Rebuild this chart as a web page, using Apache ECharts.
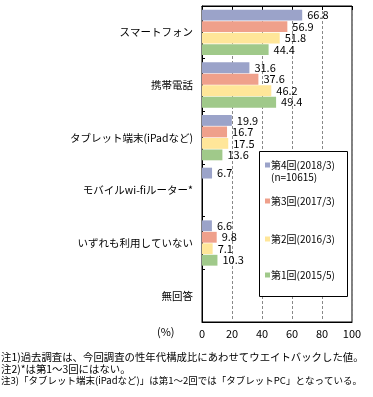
<!DOCTYPE html>
<html><head><meta charset="utf-8">
<script src="https://cdn.jsdelivr.net/npm/echarts@6/dist/echarts.min.js"></script>
<style>html,body{margin:0;padding:0;background:#fff}#c{width:373px;height:397px}</style>
</head><body><div id="c"></div>
<script>
const categories = ['スマートフォン','携帯電話','タブレット端末(iPadなど)','モバイルwi-fiルーター*','いずれも利用していない','無回答'];
const seriesNames = ['第4回(2018/3)','第3回(2017/3)','第2回(2016/3)','第1回(2015/5)'];
const round4 = [66.8, 31.6, 19.9, 6.7, 6.6, null];
const round3 = [56.9, 37.6, 16.7, null, 9.8, null];
const round2 = [51.8, 46.2, 17.5, null, 7.1, null];
const round1 = [44.4, 49.4, 13.6, null, 10.3, null];
const xTicks = [0, 20, 40, 60, 80, 100];
const sampleNote = '(n=10615)';
const notes = [
  '注1)過去調査は、今回調査の性年代構成比にあわせてウエイトバックした値。',
  '注2)*は第1～3回にはない。',
  '注3)「タブレット端末(iPadなど)」は第1～2回では「タブレットPC」となっている。'
];
const colors = ['#9BA3C9','#EFA08B','#FFE699','#A0C98A'];
const FONT = '"Noto Sans CJK JP", sans-serif';
const values = [round4, round3, round2, round1];
const noteSizes = [10.4, 10.4, 9.5];

const chart = echarts.init(document.getElementById('c'), null, {renderer:'canvas'});
const legendTops = [160, 196, 234, 270];
chart.setOption({
  animation:false,
  textStyle:{fontFamily:FONT, color:'#000'},
  grid:{left:202, top:6, width:150, height:316, show:true, borderColor:'#000', borderWidth:1, backgroundColor:'transparent'},
  xAxis:[{
    type:'value', min:xTicks[0], max:xTicks[xTicks.length-1], interval:20, position:'bottom',
    axisLine:{show:true, lineStyle:{color:'#000'}},
    axisTick:{show:false},
    axisLabel:{color:'#000', fontSize:11, fontFamily:FONT, margin:6},
    splitLine:{show:true, lineStyle:{color:'#888', type:[3,2], width:1}}
  },{
    type:'value', min:0, max:100, interval:20, position:'top',
    axisLine:{show:true, lineStyle:{color:'#000'}},
    axisTick:{show:true, inside:true, length:4, lineStyle:{color:'#000'}},
    axisLabel:{show:false}, splitLine:{show:false}
  }],
  yAxis:{
    type:'category', data:categories, inverse:true,
    axisLine:{show:true, lineStyle:{color:'#000'}},
    axisTick:{show:true, inside:true, length:3, lineStyle:{color:'#000'}},
    axisLabel:{color:'#000', fontSize:10.5, fontFamily:FONT, margin:9}
  },
  legend: seriesNames.map((n,i)=>({
    data:[n], orient:'vertical', left:265, top:legendTops[i], padding:0, z:10,
    icon:'rect', itemWidth:5, itemHeight:5, itemGap:4,
    textStyle:{fontSize:10, fontFamily:FONT, color:'#000', padding:[0,0,0,-4]},
    selectedMode:false
  })),
  graphic:[
    {type:'rect', left:259, top:151, z:3, shape:{width:88, height:145}, style:{fill:'#fff', stroke:'#000', lineWidth:1}},
    {type:'text', left:271, top:172, z:110, style:{text:sampleNote, fontSize:10, fontFamily:FONT, fill:'#000'}},
    {type:'text', left:157, top:326, style:{text:'(%)', fontSize:11, fontFamily:FONT, fill:'#000'}},
    ...notes.map((t,i)=>({type:'text', left:1, top:352+i*12, style:{text:t, fontSize:noteSizes[i], fontFamily:FONT, fill:'#000'}}))
  ],
  series: seriesNames.map((n,i)=>({
    name:n, type:'bar', data:values[i], barGap:'6%', barCategoryGap:'14%',
    itemStyle:{color:colors[i]},
    label:{show:true, position:'right', distance:5, color:'#000', fontSize:11, fontFamily:FONT,
      formatter:p=>p.value==null?'':p.value.toFixed(1)}
  }))
});
</script></body></html>
